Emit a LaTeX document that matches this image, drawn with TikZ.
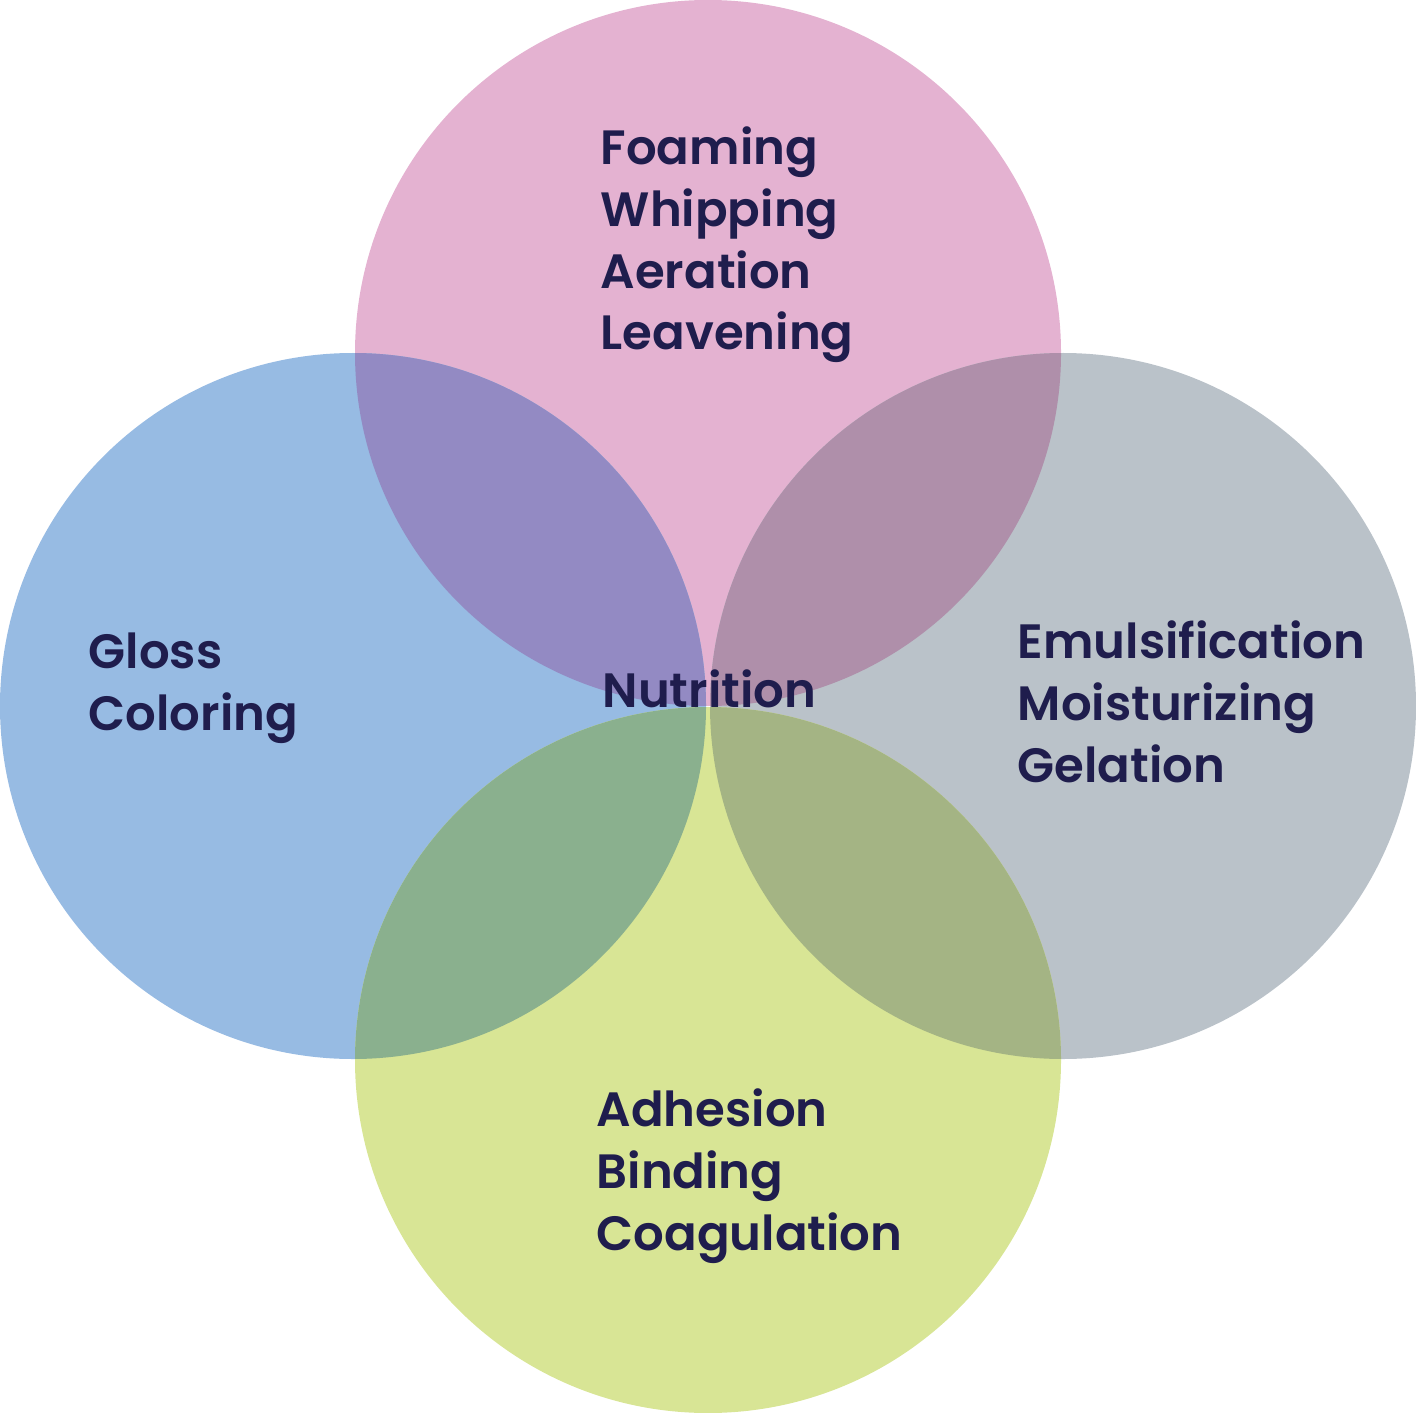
\documentclass[tikz,border=0pt]{standalone}
\usepackage{fontspec}
\setmainfont{Poppins}[BoldFont={Poppins SemiBold}]
\definecolor{ink}{RGB}{31,29,77}
\definecolor{pinkc}{HTML}{E4B2D1}
\definecolor{bluec}{HTML}{97BBE3}
\definecolor{grayc}{HTML}{BAC2C9}
\definecolor{limec}{HTML}{D8E595}
\definecolor{tlc}{HTML}{938AC3}
\definecolor{trc}{HTML}{AF8FAA}
\definecolor{lbc}{HTML}{8AB08E}
\definecolor{rbc}{HTML}{A4B484}
\tikzset{
  lbl/.style={anchor=base west, align=left, inner sep=0pt, text=ink,
    font=\fontsize{13.7}{17.6}\selectfont\bfseries}
}
\begin{document}
\begin{tikzpicture}[x=0.01cm, y=-0.01cm]
                    \useasboundingbox (0,0) rectangle (1416,1413);
                    \def\rad{353}

                    % circles
                    \fill[pinkc] (708,353) circle (\rad);
                    \fill[bluec] (353,706) circle (\rad);
                    \fill[grayc] (1063,706) circle (\rad);
                    \fill[limec] (708,1060) circle (\rad);

                    % overlaps
                    \begin{scope}
                        \clip (708,353) circle (\rad);
                        \fill[tlc] (353,706) circle (\rad);
                        \fill[trc] (1063,706) circle (\rad);
                    \end{scope}
                    \begin{scope}
                        \clip (708,1060) circle (\rad);
                        \fill[lbc] (353,706) circle (\rad);
                        \fill[rbc] (1063,706) circle (\rad);
                    \end{scope}

                    % labels (anchored at the last line)
                    \node[lbl] (top) at (600,350) {Foaming\\Whipping\\Aeration\\Leavening};
                    \node[lbl] (left) at (88,730) {Gloss\\Coloring};
                    \node[lbl] (mid) at (602,707) {Nutrition};
                    \node[lbl] (right) at (1017,782) {Emulsification\\Moisturizing\\Gelation};
                    \node[lbl] (bottom) at (596,1250) {Adhesion\\Binding\\Coagulation};
                \end{tikzpicture}
\end{document}
